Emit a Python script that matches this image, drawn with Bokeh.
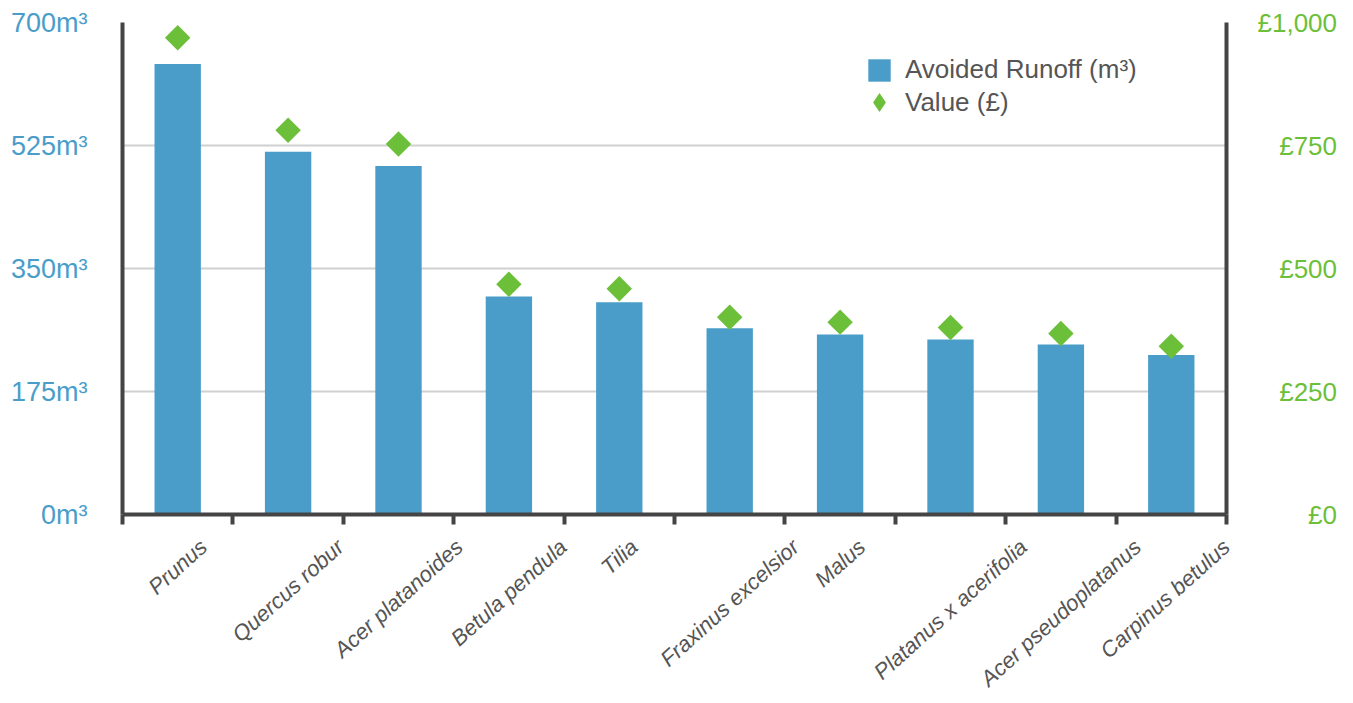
import math

from bokeh.plotting import figure
from bokeh.models import (Range1d, LinearAxis, FixedTicker, ColumnDataSource,
                          Legend, LegendItem)
from bokeh.embed import file_html
from bokeh.resources import INLINE

# ---- data -------------------------------------------------------------
species = ["Prunus", "Quercus robur", "Acer platanoides", "Betula pendula", "Tilia",
           "Fraxinus excelsior", "Malus", "Platanus x acerifolia",
           "Acer pseudoplatanus", "Carpinus betulus"]
runoff_m3 = [641, 516, 496, 310, 302, 265, 256, 249, 242, 227]
value_gbp = [969, 781, 753, 468, 459, 401, 391, 380, 368, 342]

runoff_ticks = [0, 175, 350, 525, 700]
runoff_tick_labels = ["0m³", "175m³", "350m³", "525m³", "700m³"]
value_ticks = [0, 250, 500, 750, 1000]
value_tick_labels = ["£0", "£250", "£500", "£750", "£1,000"]

# ---- styling ----------------------------------------------------------
BLUE = "#4a9dc9"
GREEN = "#6cbf38"
AXIS = "#444444"
TEXT = "#555555"
GRID = "#d0d0d0"
FONT = "Liberation Sans"

W, H = 1353, 703
BORDER_L, BORDER_R, BORDER_T, BORDER_B = 122, 127, 22, 189

LABEL_SIZE = 22
LABEL_ANGLE = math.radians(42)

# Approximate advance widths (per 1000 em) of the sans font
ADV = {" ": 278, "a": 556, "b": 556, "c": 500, "d": 556, "e": 556, "f": 278,
       "i": 222, "l": 222, "n": 556, "o": 556, "p": 556, "r": 333, "s": 500,
       "t": 278, "u": 556, "x": 500, "A": 667, "B": 667, "C": 722, "F": 611,
       "M": 833, "P": 667, "Q": 778, "T": 611, ",": 278, "£": 556}


def em_width(s):
    return sum(ADV.get(c, 556) for c in s) / 1000.0


def right_pad(labels):
    # left-pad with figure / punctuation spaces so labels line up on the right
    widths = [em_width(s) for s in labels]
    widest = max(widths)
    out = []
    for s, w in zip(labels, widths):
        diff = widest - w
        n_fig = int(diff // 0.556 + 1e-9)
        rest = diff - n_fig * 0.556
        pad = "\u2007" * n_fig + ("\u2008" if rest > 0.2 else "")
        out.append(pad + s)
    return out


n = len(species)
cat_x = [i + 0.5 for i in range(n)]
px_per_unit = (W - BORDER_L - BORDER_R) / n

# slanted names are anchored at their right end; shift the anchor so that
# each name sits centred under its bar (kept inside the axis range)
name_pos = [min(float(n), cx + 0.5 * em_width(s) * LABEL_SIZE * math.cos(LABEL_ANGLE) / px_per_unit)
            for cx, s in zip(cat_x, species)]

src = ColumnDataSource(dict(x=cat_x, species=species, runoff=runoff_m3, value=value_gbp))

p = figure(
    width=W, height=H,
    x_range=Range1d(0, n), y_range=Range1d(0, 700),
    output_backend="svg", toolbar_location=None,
    min_border_left=BORDER_L, min_border_right=BORDER_R,
    min_border_top=BORDER_T, min_border_bottom=BORDER_B,
)
p.extra_y_ranges = {"value": Range1d(0, 1000)}
p.outline_line_color = None
p.background_fill_color = "white"
p.border_fill_color = "white"

# grid
p.xgrid.grid_line_color = None
p.ygrid.ticker = FixedTicker(ticks=runoff_ticks[1:])
p.ygrid.grid_line_color = GRID
p.ygrid.grid_line_width = 2

# bottom axis: category boundaries as (minor) ticks, slanted names as labels
xa = p.xaxis[0]
xa.ticker = FixedTicker(ticks=name_pos, minor_ticks=list(range(n + 1)))
xa.major_label_overrides = dict(zip(name_pos, species))
xa.major_label_orientation = LABEL_ANGLE
xa.major_label_standoff = 19
xa.major_label_text_font = FONT
xa.major_label_text_font_size = f"{LABEL_SIZE}px"
xa.major_label_text_font_style = "italic"
xa.major_label_text_color = TEXT
xa.major_tick_line_color = None
xa.major_tick_in = 0
xa.major_tick_out = 10
xa.minor_tick_in = 0
xa.minor_tick_out = 10
xa.minor_tick_line_width = 4
xa.minor_tick_line_color = AXIS
xa.axis_line_width = 4
xa.axis_line_color = AXIS

# left axis: runoff volume
ya = p.yaxis[0]
ya.ticker = FixedTicker(ticks=runoff_ticks)
ya.major_label_overrides = dict(zip(runoff_ticks, runoff_tick_labels))
ya.major_tick_line_color = None
ya.major_tick_out = 0
ya.major_tick_in = 0
ya.minor_tick_line_color = None
ya.axis_line_width = 4
ya.axis_line_color = AXIS
ya.major_label_standoff = 35
ya.major_label_text_font = FONT
ya.major_label_text_font_size = "27px"
ya.major_label_text_color = BLUE

# right axis: monetary value
ra = LinearAxis(y_range_name="value", ticker=FixedTicker(ticks=value_ticks))
ra.major_label_overrides = dict(zip(value_ticks, right_pad(value_tick_labels)))
ra.major_label_standoff = 31
ra.major_label_text_font = FONT
ra.major_label_text_font_size = "26px"
ra.major_label_text_color = GREEN
ra.major_tick_line_color = None
ra.major_tick_out = 0
ra.major_tick_in = 0
ra.minor_tick_line_color = None
ra.axis_line_width = 4
ra.axis_line_color = AXIS
p.add_layout(ra, "right")

# marks
bars = p.vbar(x="x", top="runoff", width=0.42, source=src,
              fill_color=BLUE, line_color=None)
dots = p.scatter(x="x", y="value", y_range_name="value", source=src,
                 marker="square", angle=math.pi / 4, size=18,
                 fill_color=GREEN, line_color=None)
# legend key for the value series (legend markers are drawn unrotated,
# so a diamond marker of zero plot size stands in for it)
dot_key = p.scatter(x="x", y="value", y_range_name="value", source=src,
                    marker="diamond", size=0, fill_color=GREEN, line_color=None)

# legend (two blocks so each swatch keeps its own size)
common = dict(padding=0, margin=0, border_line_color=None, background_fill_alpha=0,
              label_text_font=FONT, label_text_font_size="26px",
              label_text_color=TEXT, spacing=0)
leg1 = Legend(items=[LegendItem(label="Avoided Runoff (m³)", renderers=[bars])],
              location=(743, 429), glyph_width=28, glyph_height=28,
              label_standoff=12, **common)
leg2 = Legend(items=[LegendItem(label="Value (£)", renderers=[dot_key])],
              location=(733, 388), glyph_width=48, glyph_height=48,
              label_standoff=2, **common)
p.add_layout(leg1)
p.add_layout(leg2)

open("out.html", "w").write(file_html(p, INLINE))
